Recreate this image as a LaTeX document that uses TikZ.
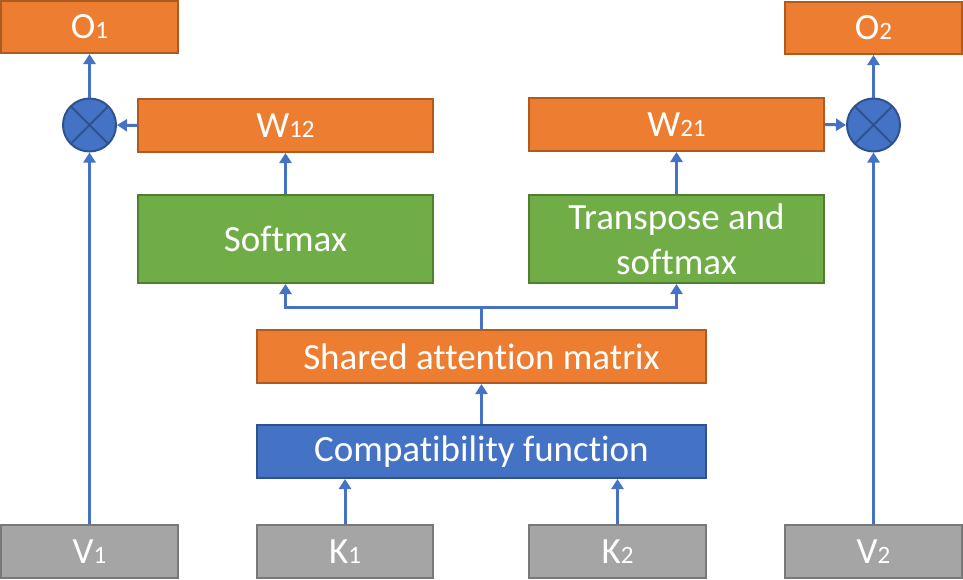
\documentclass[tikz,border=0pt]{standalone}
\usepackage{fontspec}
\setmainfont[Ligatures={NoCommon,NoRare}]{Carlito}
\usetikzlibrary{arrows.meta}
\definecolor{orfill}{HTML}{ED7D31}
\definecolor{ordraw}{HTML}{AE5A21}
\definecolor{grfill}{HTML}{70AD47}
\definecolor{grdraw}{HTML}{507E32}
\definecolor{blfill}{HTML}{4472C4}
\definecolor{bldraw}{HTML}{2F528F}
\definecolor{gyfill}{HTML}{A5A5A5}
\definecolor{gydraw}{HTML}{787878}
\newcommand{\sbs}[1]{{\fontsize{25}{28}\selectfont #1}}
\tikzset{
  box/.style={rectangle, line width=2pt, inner sep=0pt, text=white, align=center,
    font=\fontsize{37}{45}\selectfont},
  obox/.style={box, fill=orfill, draw=ordraw},
  gbox/.style={box, fill=grfill, draw=grdraw},
  bbox/.style={box, fill=blfill, draw=bldraw},
  ybox/.style={box, fill=gyfill, draw=gydraw},
  mult/.style={circle, fill=blfill, draw=bldraw, line width=2pt, minimum size=53pt, inner sep=0pt,
    path picture={\draw[bldraw, line width=2pt] (path picture bounding box.north west) -- (path picture bounding box.south east)
      (path picture bounding box.north east) -- (path picture bounding box.south west);}},
  arr/.style={draw=blfill, line width=3pt, -{Triangle[width=12pt,length=10pt]}},
  ln/.style={draw=blfill, line width=3pt}
}
\begin{document}
\begin{tikzpicture}[x=1pt,y=-1pt]
\useasboundingbox (0,0) rectangle (963,579);
\node[obox, minimum width=177pt, minimum height=52pt] (o1) at (89.5,27) {O\sbs{1}};
\node[obox, minimum width=177pt, minimum height=52pt] (o2) at (873.5,28) {O\sbs{2}};
\node[obox, minimum width=295pt, minimum height=53pt] (w12) at (285.5,125.5) {W\sbs{12}};
\node[obox, minimum width=295pt, minimum height=53pt] (w21) at (676.5,124.5) {W\sbs{21}};
\node[gbox, minimum width=295pt, minimum height=88pt] (soft) at (285.5,239) {Softmax};
\node[gbox, minimum width=295pt, minimum height=88pt] (trans) at (676.5,239) {Transpose and\\softmax};
\node[obox, minimum width=449pt, minimum height=53pt] (shared) at (481.5,356.5) {Shared attention matrix};
\node[bbox, minimum width=449pt, minimum height=53pt] (compat) at (481.5,451.5) {Compatibility function};
\node[ybox, minimum width=177pt, minimum height=53pt] (v1) at (89.5,551.5) {V\sbs{1}};
\node[ybox, minimum width=176pt, minimum height=53pt] (k1) at (345,551.5) {K\sbs{1}};
\node[ybox, minimum width=177pt, minimum height=53pt] (k2) at (617.5,551.5) {K\sbs{2}};
\node[ybox, minimum width=177pt, minimum height=53pt] (v2) at (873.5,551.5) {V\sbs{2}};
\node[mult] (m1) at (89.5,125) {};
\node[mult] (m2) at (873.5,125) {};
\coordinate (split) at (481.5,307);
% connectors
\draw[arr] (k1.north) -- (k1.north |- compat.south);
\draw[arr] (k2.north) -- (k2.north |- compat.south);
\draw[arr] (compat.north) -- (shared.south);
\draw[ln] (shared.north) -- (split);
\draw[arr] (split) -| (soft.south);
\draw[arr] (split) -| (trans.south);
\draw[arr] (soft.north) -- (w12.south);
\draw[arr] (trans.north) -- (w21.south);
\draw[arr] (w12.west) -- (m1.east);
\draw[arr] (w21.east) -- (m2.west);
\draw[arr] (m1.north) -- (o1.south);
\draw[arr] (m2.north) -- (o2.south);
\draw[arr] (v1.north) -- (m1.south);
\draw[arr] (v2.north) -- (m2.south);
\end{tikzpicture}
\end{document}
